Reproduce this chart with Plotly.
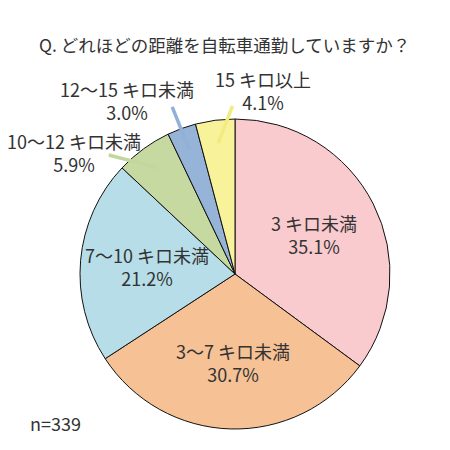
import numpy as np
import plotly.graph_objects as go

# slices clockwise from 12 o'clock
labels = ["3 キロ未満", "3～7 キロ未満", "7～10 キロ未満", "10～12 キロ未満", "12～15 キロ未満", "15 キロ以上"]
values = [35.1, 30.7, 21.2, 5.9, 3.0, 4.1]
colors = ["#F9CACE", "#F6C195", "#B7DEE8", "#C5D9A0", "#96B3D8", "#F8F39B"]
line_colors = [None, None, None, "#C3D69B", "#93B1D6", "#F2EC80"]
outside = [False, False, False, True, True, True]

title = "Q. どれほどの距離を自転車通勤していますか？"
note = "n=339"

W = H = 450
OFF = 8  # page body margin in the screenshot
CX, CY, R = 235, 274, 155
FONT = "Noto Sans CJK JP"
TXT = "#333333"


def px_to_paper(x, y):
    return (x - OFF) / W, 1 - (y - OFF) / H


x0, y1 = px_to_paper(CX - R, CY - R)
x1, y0 = px_to_paper(CX + R, CY + R)

fig = go.Figure(
    go.Pie(
        labels=labels,
        values=values,
        sort=False,
        direction="clockwise",
        rotation=0,
        textinfo="none",
        hoverinfo="label+percent",
        marker=dict(colors=colors, line=dict(color="#111111", width=1)),
        domain=dict(x=[x0, x1], y=[y0, y1]),
        showlegend=False,
    )
)

# mid angles of slices (degrees clockwise from top)
v = np.array(values)
ends = np.cumsum(v) / v.sum() * 360
mids = ends - v / v.sum() * 180

# outside labels: leader tail offset from tip (px) and text centre (px)
leader = {3: (-50, -13), 4: (-18, -45), 5: (15, -39)}
text_pos = {3: (74, 153), 4: (127, 100), 5: (263, 91)}

annotations = []
for i, (lab, val, ang) in enumerate(zip(labels, values, mids)):
    t = np.radians(ang)
    txt = f"{lab}<br>{val:.1f}%"
    if not outside[i]:
        r = 0.57 * R
        x, y = px_to_paper(CX + r * np.sin(t), CY - r * np.cos(t))
    else:
        r = 0.85 * R
        lx, ly = px_to_paper(CX + r * np.sin(t), CY - r * np.cos(t))
        ax, ay = leader[i]
        annotations.append(dict(
            text="", x=lx, y=ly, xref="paper", yref="paper", showarrow=True,
            ax=ax, ay=ay, arrowhead=0, arrowwidth=3.5, arrowcolor=line_colors[i],
            standoff=0, startstandoff=0,
        ))
        x, y = px_to_paper(*text_pos[i])
    annotations.append(dict(
        text=txt, x=x, y=y, xref="paper", yref="paper", showarrow=False,
        xanchor="center", yanchor="middle",
        font=dict(family=FONT, size=18, color=TXT), align="center",
    ))

tx, ty = px_to_paper(224, 45)
annotations.append(dict(
    text=title, x=tx, y=ty, xref="paper", yref="paper", showarrow=False,
    xanchor="center", yanchor="middle",
    font=dict(family=FONT, size=17.5, color=TXT),
))
nx, ny = px_to_paper(28, 423)
annotations.append(dict(
    text=note, x=nx, y=ny, xref="paper", yref="paper", showarrow=False,
    xanchor="left", yanchor="middle", font=dict(family=FONT, size=18, color=TXT),
))

fig.update_layout(
    width=W,
    height=H,
    margin=dict(l=0, r=0, t=0, b=0),
    paper_bgcolor="white",
    plot_bgcolor="white",
    annotations=annotations,
)

fig.write_html("out.html")
